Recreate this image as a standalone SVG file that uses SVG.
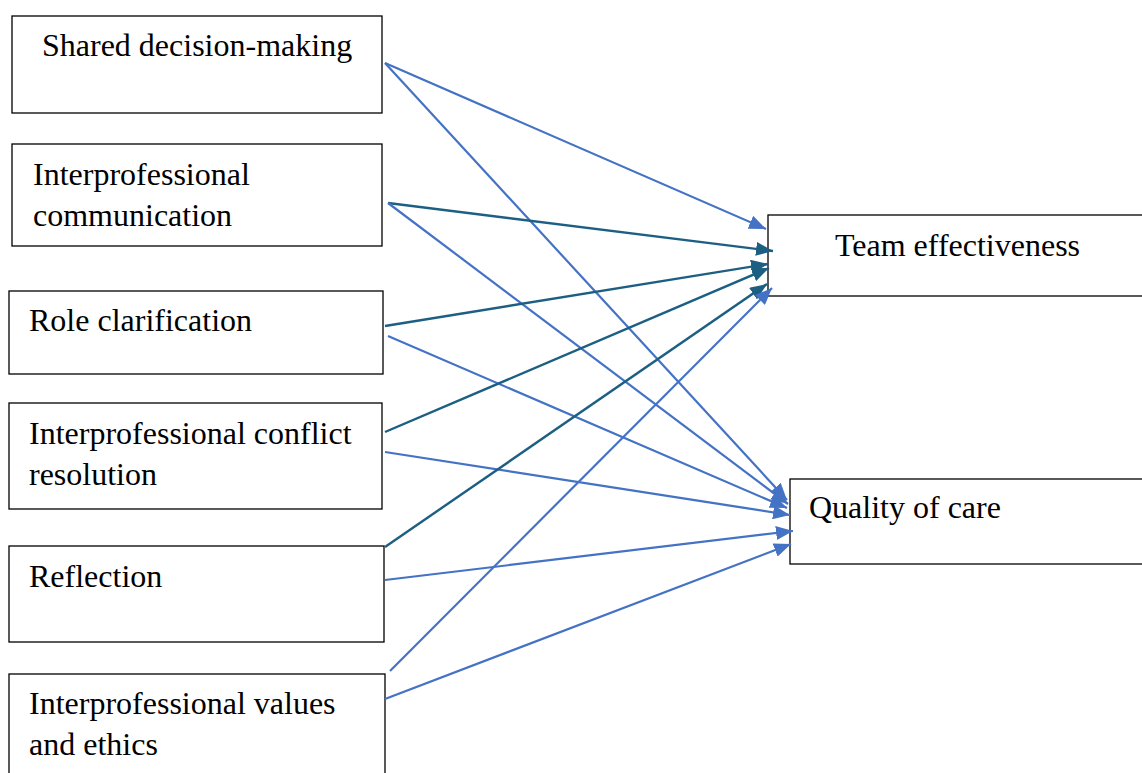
<svg xmlns="http://www.w3.org/2000/svg" width="1142" height="773" viewBox="0 0 1142 773">
  <style>
    .box { fill: #ffffff; stroke: #000000; stroke-width: 1.3; }
    .label { font-family: "Liberation Serif", "Times New Roman", serif; font-size: 32px; fill: #000000; }
    .blue { stroke: #4472C4; stroke-width: 2.2; fill: none; marker-end: url(#arrowBlue); }
    .teal { stroke: #1C5F82; stroke-width: 2.4; fill: none; marker-end: url(#arrowTeal); }
  </style>
  <defs>
    <marker id="arrowBlue" markerUnits="userSpaceOnUse" markerWidth="18" markerHeight="14" refX="17" refY="7" orient="auto">
      <path d="M0,0 L17,7 L0,14 z" fill="#4472C4"/>
    </marker>
    <marker id="arrowTeal" markerUnits="userSpaceOnUse" markerWidth="18" markerHeight="14" refX="17" refY="7" orient="auto">
      <path d="M0,0 L17,7 L0,14 z" fill="#1C5F82"/>
    </marker>
  </defs>

  <rect width="1142" height="773" fill="#ffffff"/>

  <!-- predictor boxes -->
  <g id="shared-decision-making">
    <rect class="box" x="12" y="16" width="370" height="97"/>
    <text class="label" x="42" y="56">Shared decision-making</text>
  </g>
  <g id="interprofessional-communication">
    <rect class="box" x="12" y="144" width="370" height="102"/>
    <text class="label" x="33" y="185">Interprofessional</text>
    <text class="label" x="33" y="226">communication</text>
  </g>
  <g id="role-clarification">
    <rect class="box" x="9" y="291" width="374" height="83"/>
    <text class="label" x="29" y="331">Role clarification</text>
  </g>
  <g id="conflict-resolution">
    <rect class="box" x="9" y="403" width="373" height="106"/>
    <text class="label" x="29" y="444">Interprofessional conflict</text>
    <text class="label" x="29" y="485">resolution</text>
  </g>
  <g id="reflection">
    <rect class="box" x="9" y="546" width="375" height="96"/>
    <text class="label" x="29" y="587">Reflection</text>
  </g>
  <g id="values-ethics">
    <rect class="box" x="9" y="674" width="376" height="120"/>
    <text class="label" x="29" y="714">Interprofessional values</text>
    <text class="label" x="29" y="755">and ethics</text>
  </g>

  <!-- outcome boxes -->
  <g id="team-effectiveness">
    <rect class="box" x="768" y="215" width="400" height="81"/>
    <text class="label" x="835" y="256">Team effectiveness</text>
  </g>
  <g id="quality-of-care">
    <rect class="box" x="790" y="479" width="400" height="85"/>
    <text class="label" x="809" y="518">Quality of care</text>
  </g>

  <!-- connectors -->
  <g id="connectors">
    <line class="blue" x1="385" y1="63" x2="766" y2="229"/>
    <line class="blue" x1="385" y1="63" x2="787" y2="500"/>

    <line class="teal" x1="388" y1="203" x2="773" y2="251"/>
    <line class="blue" x1="388" y1="203" x2="788" y2="504"/>

    <line class="teal" x1="385" y1="326" x2="768" y2="264"/>
    <line class="blue" x1="388" y1="336" x2="787" y2="508"/>

    <line class="teal" x1="385" y1="432" x2="769" y2="268"/>
    <line class="blue" x1="385" y1="452" x2="790" y2="515"/>

    <line class="teal" x1="385" y1="547" x2="767" y2="284"/>
    <line class="blue" x1="385" y1="580" x2="793" y2="531"/>

    <line class="blue" x1="390" y1="671" x2="772" y2="288"/>
    <line class="blue" x1="385" y1="699" x2="791" y2="544"/>
  </g>
</svg>
